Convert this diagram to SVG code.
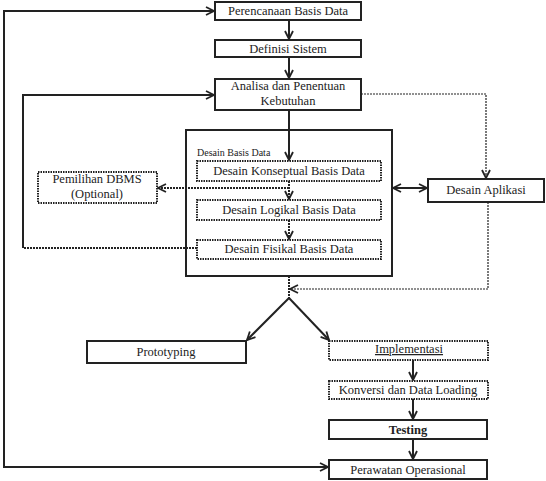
<svg xmlns="http://www.w3.org/2000/svg" width="546" height="481" viewBox="0 0 546 481">
<style>
.box{fill:#fff;stroke:#222;stroke-width:2}
.frame{fill:none;stroke:#222;stroke-width:2}
.dot{fill:#fff;stroke:#222;stroke-width:2;stroke-dasharray:1.5 1}
.t{font-family:"Liberation Serif","Times New Roman",serif;font-size:12.5px;fill:#222;text-anchor:middle}
.c{fill:none;stroke:#222;stroke-width:2}
.cd{fill:none;stroke:#222;stroke-width:2;stroke-dasharray:2 1}
.ct{fill:none;stroke:#222;stroke-width:1.2;stroke-dasharray:2 1}
</style>
<defs>
<marker id="a" viewBox="0 0 10 10" refX="9" refY="5" markerWidth="10" markerHeight="10" markerUnits="userSpaceOnUse" orient="auto-start-reverse">
<path d="M1,1 L9,5 L1,9" fill="none" stroke="#222" stroke-width="1.8"/>
</marker>
</defs>
<g id="desain-basis-data">
<rect class="frame" x="186" y="130" width="206" height="146"/>
<text x="197" y="156" font-family="Liberation Serif, serif" font-size="10" fill="#222">Desain Basis Data</text>
</g>
<g id="perencanaan">
<rect class="box" x="215" y="2" width="146" height="18"/>
<text class="t" x="288" y="15">Perencanaan Basis Data</text>
</g>
<g id="definisi">
<rect class="box" x="215" y="40" width="146" height="17"/>
<text class="t" x="288" y="53">Definisi Sistem</text>
</g>
<g id="analisa">
<rect class="box" x="215" y="79" width="146" height="31"/>
<text class="t" x="288" y="90">Analisa dan Penentuan</text>
<text class="t" x="288" y="105">Kebutuhan</text>
</g>
<g id="konseptual">
<rect class="dot" x="197" y="161" width="184" height="20"/>
<text class="t" x="289" y="175">Desain Konseptual Basis Data</text>
</g>
<g id="logikal">
<rect class="dot" x="197" y="200" width="184" height="20"/>
<text class="t" x="289" y="214">Desain Logikal Basis Data</text>
</g>
<g id="fisikal">
<rect class="dot" x="197" y="240" width="184" height="19"/>
<text class="t" x="289" y="253">Desain Fisikal Basis Data</text>
</g>
<g id="pemilihan">
<rect class="dot" x="38" y="172" width="119" height="31"/>
<text class="t" x="97" y="183">Pemilihan DBMS</text>
<text class="t" x="97" y="198">(Optional)</text>
</g>
<g id="aplikasi">
<rect class="box" x="428" y="179" width="116" height="23"/>
<text class="t" x="486" y="194">Desain Aplikasi</text>
</g>
<g id="prototyping">
<rect class="box" x="87" y="341" width="159" height="22"/>
<text class="t" x="166" y="356">Prototyping</text>
</g>
<g id="implementasi">
<rect class="dot" x="329" y="341" width="159" height="19"/>
<text class="t" x="409" y="353" text-decoration="underline">Implementasi</text>
</g>
<g id="konversi">
<rect class="dot" x="329" y="381" width="159" height="18"/>
<text class="t" x="408" y="394">Konversi dan Data Loading</text>
</g>
<g id="testing">
<rect class="box" x="329" y="420" width="158" height="19"/>
<text class="t" x="408" y="434" font-weight="bold">Testing</text>
</g>
<g id="perawatan">
<rect class="box" x="329" y="460" width="158" height="19"/>
<text class="t" x="408" y="474">Perawatan Operasional</text>
</g>
<g id="connectors">
<path class="c" d="M289,20 V39" marker-end="url(#a)"/>
<path class="c" d="M289,57 V78" marker-end="url(#a)"/>
<path class="c" d="M289,110 V160" marker-end="url(#a)"/>
<path class="cd" d="M289,181 V199" marker-end="url(#a)"/>
<path class="cd" d="M289,188 H158" marker-end="url(#a)"/>
<path class="cd" d="M289,220 V239" marker-end="url(#a)"/>
<path class="cd" d="M197,248 H23"/>
<path class="c" d="M23,248 V95 H214" marker-end="url(#a)"/>
<path class="ct" d="M361,94 H486 V178" marker-end="url(#a)"/>
<path class="c" d="M393,188 H427" marker-start="url(#a)" marker-end="url(#a)"/>
<path class="ct" d="M488,202 V289 H290" marker-end="url(#a)"/>
<path class="cd" d="M289,276 V298"/>
<path class="c" d="M289,298 L247,340" marker-end="url(#a)"/>
<path class="c" d="M289,298 L329,340" marker-end="url(#a)"/>
<path class="c" d="M413,360 V380" marker-end="url(#a)"/>
<path class="c" d="M413,399 V419" marker-end="url(#a)"/>
<path class="c" d="M413,439 V459" marker-end="url(#a)"/>
<path class="c" d="M328,467 H4 V11 H214" marker-start="url(#a)" marker-end="url(#a)"/>
</g>
</svg>
